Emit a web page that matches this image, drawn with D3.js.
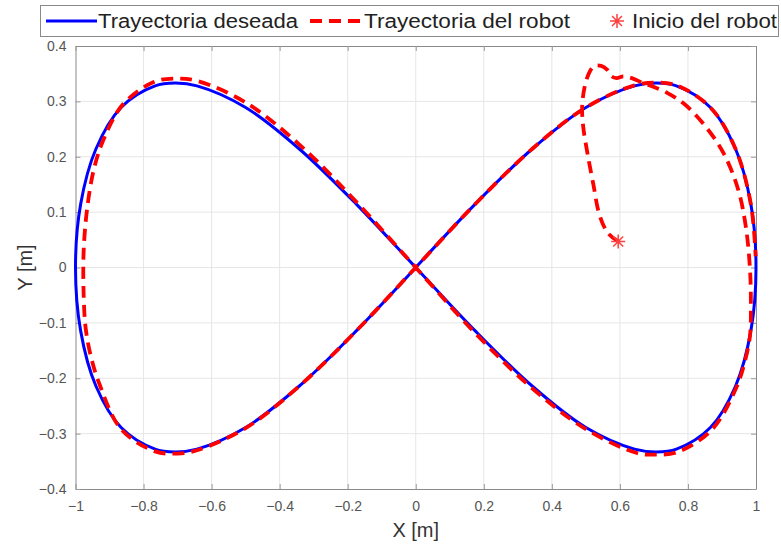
<html>
<head>
  <meta charset="utf-8">
  <title>Trayectoria lemniscata</title>
  <style>
    body { margin: 0; background: #fff; font-family: "Liberation Sans", Arial, sans-serif; }
    .tick text { fill: #555; font-size: 14px; }
  </style>
  <script src="https://d3js.org/d3.v7.min.js"></script>
</head>
<body>
  <div id="chart"></div>
  <script>
    // Trayectoria deseada (x, y en metros)
    const desiredX = [0, 0.174, 0.342, 0.5, 0.643, 0.707, 0.766, 0.866, 0.940, 0.985, 1, 0.985, 0.940, 0.866, 0.766, 0.707, 0.643, 0.5, 0.342, 0.174,
      0, -0.174, -0.342, -0.5, -0.643, -0.707, -0.766, -0.866, -0.940, -0.985, -1, -0.985, -0.940, -0.866, -0.766, -0.707, -0.643, -0.5, -0.342, -0.174, 0];
    const desiredY = [0, 0.114, 0.214, 0.289, 0.328, 0.333, 0.328, 0.289, 0.214, 0.114, 0, -0.114, -0.214, -0.289, -0.328, -0.333, -0.328, -0.289, -0.214, -0.114,
      0, 0.114, 0.214, 0.289, 0.328, 0.333, 0.328, 0.289, 0.214, 0.114, 0, -0.114, -0.214, -0.289, -0.328, -0.333, -0.328, -0.289, -0.214, -0.114, 0];

    // Trayectoria del robot
    const robotX = [0.595, 0.565, 0.540, 0.522, 0.505, 0.492, 0.489, 0.496, 0.510, 0.525, 0.545, 0.563, 0.574, 0.590, 0.610, 0.635, 0.665, 0.700, 0.740,
      0.786, 0.850, 0.905, 0.948, 0.970, 0.982, 0.985, 0.982, 0.965, 0.940, 0.870, 0.770, 0.700, 0.650, 0.500, 0.342, 0.174,
      0, -0.174, -0.342, -0.500, -0.643, -0.710, -0.770, -0.860, -0.915, -0.945, -0.965, -0.976, -0.976, -0.970, -0.955, -0.930,
      -0.866, -0.766, -0.700, -0.643, -0.500, -0.342, -0.174, 0, 0.174, 0.342, 0.500, 0.643, 0.707, 0.766, 0.866, 0.940, 0.985, 0.999];
    const robotY = [0.047, 0.062, 0.095, 0.150, 0.205, 0.255, 0.290, 0.325, 0.352, 0.364, 0.364, 0.357, 0.346, 0.342, 0.345, 0.342, 0.334, 0.326, 0.315,
      0.297, 0.256, 0.206, 0.140, 0.074, 0.000, -0.070, -0.125, -0.175, -0.220, -0.293, -0.333, -0.338, -0.335, -0.292, -0.218, -0.118,
      0, 0.118, 0.222, 0.298, 0.337, 0.341, 0.335, 0.295, 0.235, 0.180, 0.110, 0.030, -0.050, -0.110, -0.160, -0.210,
      -0.292, -0.332, -0.336, -0.330, -0.290, -0.214, -0.114, 0, 0.114, 0.214, 0.289, 0.329, 0.334, 0.329, 0.289, 0.214, 0.114, 0.020];

    // Inicio del robot
    const startX = [0.595];
    const startY = [0.047];

    const xTicks = [-1, -0.8, -0.6, -0.4, -0.2, 0, 0.2, 0.4, 0.6, 0.8, 1];
    const yTicks = [-0.4, -0.3, -0.2, -0.1, 0, 0.1, 0.2, 0.3, 0.4];
    const legendLabels = ["Trayectoria deseada", "Trayectoria del robot", "Inicio del robot"];

    const W = 781, H = 544;
    const margin = { top: 46, right: 25, bottom: 55, left: 75.5 };
    const width = W - margin.left - margin.right;
    const height = H - margin.top - margin.bottom;

    const x = d3.scaleLinear().domain([-1, 1]).range([0, width]);
    const y = d3.scaleLinear().domain([-0.4, 0.4]).range([height, 0]);

    const svg = d3.select("#chart").append("svg")
      .attr("width", W).attr("height", H);

    const g = svg.append("g")
      .attr("transform", `translate(${margin.left},${margin.top})`);

    // grid
    g.append("g").selectAll("line").data(xTicks.slice(1, -1)).join("line")
      .attr("x1", d => x(d)).attr("x2", d => x(d))
      .attr("y1", 0).attr("y2", height)
      .attr("stroke", "#e6e6e6").attr("stroke-width", 1);
    g.append("g").selectAll("line").data(yTicks.slice(1, -1)).join("line")
      .attr("y1", d => y(d)).attr("y2", d => y(d))
      .attr("x1", 0).attr("x2", width)
      .attr("stroke", "#e6e6e6").attr("stroke-width", 1);

    // axes (ticks inside, MATLAB style)
    const fmt = d => d3.format("")(+d.toFixed(1));
    g.append("g")
      .attr("transform", `translate(0,${height})`)
      .call(d3.axisBottom(x).tickValues(xTicks).tickFormat(fmt).tickSizeInner(-5).tickSizeOuter(0).tickPadding(12));
    g.append("g")
      .call(d3.axisLeft(y).tickValues(yTicks).tickFormat(fmt).tickSizeInner(-5).tickSizeOuter(0).tickPadding(9));
    g.append("g")
      .call(d3.axisTop(x).tickValues(xTicks).tickFormat("").tickSizeInner(-5).tickSizeOuter(0));
    g.append("g")
      .attr("transform", `translate(${width},0)`)
      .call(d3.axisRight(y).tickValues(yTicks).tickFormat("").tickSizeInner(-5).tickSizeOuter(0));
    g.selectAll(".domain").attr("stroke", "#8a8a8a");
    g.selectAll(".tick line").attr("stroke", "#9a9a9a");

    const line = d3.line()
      .x(d => x(d[0]))
      .y(d => y(d[1]))
      .curve(d3.curveCatmullRom.alpha(0.5));

    const desired = desiredX.map((v, i) => [v, desiredY[i]]);
    const robot = robotX.map((v, i) => [v, robotY[i]]);

    g.append("path").datum(desired)
      .attr("d", line)
      .attr("fill", "none").attr("stroke", "#0000ff").attr("stroke-width", 3);

    g.append("path").datum(robot)
      .attr("d", line)
      .attr("fill", "none").attr("stroke", "#ff0000").attr("stroke-width", 3.8)
      .attr("stroke-dasharray", "12,7");

    // start marker (asterisk)
    function asterisk(sel, cx, cy, r) {
      const a = r * Math.SQRT1_2;
      const p = `M${cx - r},${cy}L${cx + r},${cy}M${cx},${cy - r}L${cx},${cy + r}` +
        `M${cx - a},${cy - a}L${cx + a},${cy + a}M${cx - a},${cy + a}L${cx + a},${cy - a}`;
      sel.append("path").attr("d", p).attr("stroke", "#ff4040").attr("stroke-width", 1.5).attr("fill", "none");
    }
    startX.forEach((v, i) => asterisk(g, x(v), y(startY[i]), 7));

    // axis labels
    svg.append("text")
      .attr("x", margin.left + width / 2).attr("y", 537)
      .attr("text-anchor", "middle")
      .attr("font-size", 20).attr("fill", "#333")
      .text("X [m]");
    svg.append("text")
      .attr("transform", `translate(32,${margin.top + height / 2}) rotate(-90)`)
      .attr("text-anchor", "middle")
      .attr("font-size", 20).attr("fill", "#333")
      .text("Y [m]");

    // legend
    const leg = svg.append("g");
    leg.append("rect")
      .attr("x", 40.5).attr("y", 5.5).attr("width", 738).attr("height", 31)
      .attr("fill", "#fff").attr("stroke", "#8a8a8a");
    const ly = 21;
    leg.append("line").attr("x1", 46).attr("x2", 97).attr("y1", ly).attr("y2", ly)
      .attr("stroke", "#0000ff").attr("stroke-width", 3);
    leg.append("line").attr("x1", 310).attr("x2", 362).attr("y1", ly).attr("y2", ly)
      .attr("stroke", "#ff0000").attr("stroke-width", 3.8).attr("stroke-dasharray", "12,7");
    asterisk(leg, 617, ly, 7);
    const legX = [98, 364, 632];
    const legW = [200, 206, 145];
    leg.selectAll("text.lbl").data(legendLabels).join("text")
      .attr("class", "lbl")
      .attr("x", (d, i) => legX[i]).attr("y", ly + 7)
      .attr("font-size", 20).attr("fill", "#222")
      .attr("textLength", (d, i) => legW[i]).attr("lengthAdjust", "spacingAndGlyphs")
      .text(d => d);
  </script>
</body>
</html>
